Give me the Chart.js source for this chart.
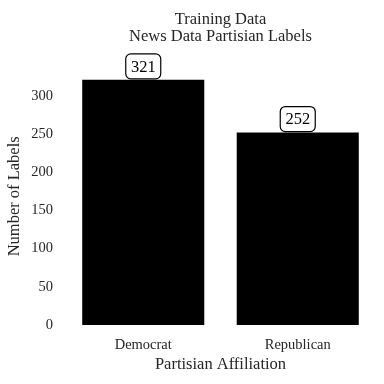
<!DOCTYPE html>
<html>
<head>
<meta charset="utf-8">
<script src="https://cdn.jsdelivr.net/npm/chart.js@4"></script>
<style>
  html, body { margin: 0; padding: 0; background: #fff; }
  #wrap { width: 384px; height: 384px; }
</style>
</head>
<body>
<div id="wrap"><canvas id="chart"></canvas></div>
<script>
const categories = ['Democrat', 'Republican'];
const labelCounts = [321, 252];
const yTicks = [0, 50, 100, 150, 200, 250, 300];

const FONT = "'Liberation Serif', 'DejaVu Serif', serif";
const TEXT = '#262626';

// boxed value labels above each bar
const valueBoxes = {
  id: 'valueBoxes',
  afterDatasetsDraw(chart) {
    const ctx = chart.ctx;
    const meta = chart.getDatasetMeta(0);
    ctx.save();
    ctx.font = '16.5px ' + FONT;
    ctx.textAlign = 'center';
    ctx.textBaseline = 'middle';
    meta.data.forEach((bar, i) => {
      const w = 35, h = 25;
      const x = bar.x - w / 2;
      const y = bar.y - 1 - h;
      ctx.beginPath();
      ctx.roundRect(x, y, w, h, 5);
      ctx.fillStyle = '#fff';
      ctx.fill();
      ctx.lineWidth = 1.2;
      ctx.strokeStyle = '#000';
      ctx.stroke();
      ctx.fillStyle = '#000';
      ctx.fillText(String(labelCounts[i]), bar.x, y + h / 2 + 1);
    });
    ctx.restore();
  }
};

new Chart(document.getElementById('chart'), {
  type: 'bar',
  data: {
    labels: categories,
    datasets: [{
      data: labelCounts,
      backgroundColor: '#000',
      borderWidth: 0,
      barPercentage: 0.79,
      categoryPercentage: 1.0
    }]
  },
  options: {
    responsive: true,
    maintainAspectRatio: false,
    animation: false,
    layout: { padding: { left: 0, right: 9, top: 0, bottom: 0 } },
    plugins: {
      legend: { display: false },
      tooltip: { enabled: false },
      title: {
        display: true,
        fullSize: false,
        text: ['Training Data', 'News Data Partisian Labels'],
        color: TEXT,
        font: { family: FONT, size: 16.5, weight: 'normal', lineHeight: 1.05 },
        padding: { top: 11, bottom: 22 }
      }
    },
    scales: {
      x: {
        offset: true,
        grid: { display: false, drawTicks: false },
        border: { display: false },
        ticks: { color: TEXT, font: { family: FONT, size: 14.5 }, padding: 11 },
        title: {
          display: true,
          text: 'Partisian Affiliation',
          color: TEXT,
          font: { family: FONT, size: 16.5, lineHeight: 1.1 },
          padding: { top: 0, bottom: 10 }
        },
        afterFit(scale) { scale.height = 59; }
      },
      y: {
        min: 0,
        max: 337,
        afterBuildTicks(scale) { scale.ticks = yTicks.map(v => ({ value: v })); },
        grid: { display: false, drawTicks: false },
        border: { display: false },
        ticks: { color: TEXT, font: { family: FONT, size: 14.5 }, padding: 13 },
        title: {
          display: true,
          text: 'Number of Labels',
          color: TEXT,
          font: { family: FONT, size: 16.5, lineHeight: 1.1 },
          padding: { top: 6, bottom: 0 }
        },
        afterFit(scale) { scale.width = 66; }
      }
    }
  },
  plugins: [valueBoxes]
});
</script>
</body>
</html>
